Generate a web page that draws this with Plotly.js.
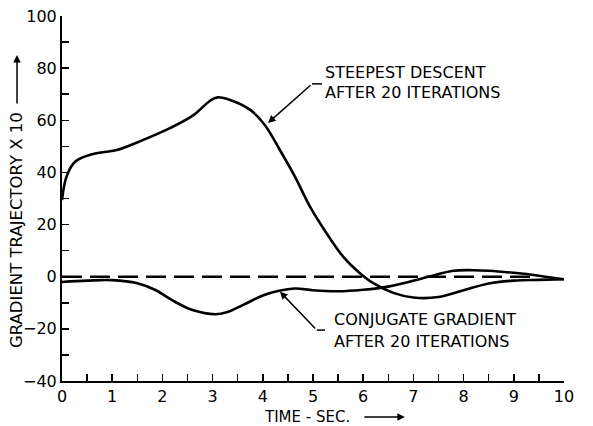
<!DOCTYPE html>
<html>
<head>
<meta charset="utf-8">
<script src="https://cdn.plot.ly/plotly-3.0.1.min.js"></script>
<style>html,body{margin:0;padding:0;background:#fff;}#chart{width:593px;height:426px;}</style>
</head>
<body>
<div id="chart"></div>
<script>
// Time axis (seconds)
const steepestT = [0, 0.09, 0.26, 0.62, 1.09, 1.62, 2.15, 2.62, 2.95, 3.1, 3.35, 3.75, 4.04, 4.34, 4.64, 4.94, 5.27, 5.6, 5.9, 6.2, 6.6, 7.0, 7.5, 8.0, 8.5, 9.0, 9.5, 10];
const steepestV = [29.4, 38.4, 44.1, 47.1, 48.6, 52.5, 57, 62, 67.5, 68.8, 67.8, 64, 58.2, 48.6, 38.4, 26.9, 16.7, 7.7, 1.9, -2.5, -6.2, -8, -7.8, -5.2, -2.6, -1.5, -1.2, -1];

const conjT = [0, 0.5, 1, 1.5, 1.85, 2.25, 2.6, 3.05, 3.3, 3.6, 4, 4.3, 4.65, 5, 5.5, 6, 6.5, 6.8, 7.3, 7.8, 8.2, 8.5, 9, 9.5, 10];
const conjV = [-2, -1.5, -1.3, -2.5, -5, -9.6, -12.8, -14.4, -13.5, -10.9, -7.2, -5.5, -4.5, -5.2, -5.6, -5, -3.8, -2.5, 0, 2.3, 2.5, 2.3, 1.5, 0.4, -1];

const refT = [0, 9.4];
const refV = [0, 0];

const xTickVals = [0, 1, 2, 3, 4, 5, 6, 7, 8, 9, 10];
const yTickVals = [-40, -20, 0, 20, 40, 60, 80, 100];

const FONT = 'DejaVu Sans, sans-serif';

const traces = [
  {x: steepestT, y: steepestV, mode: 'lines', line: {color: '#000', width: 2.6, shape: 'spline', smoothing: 1}, hoverinfo: 'skip'},
  {x: conjT, y: conjV, mode: 'lines', line: {color: '#000', width: 2.6, shape: 'spline', smoothing: 1}, hoverinfo: 'skip'},
  {x: refT, y: refV, mode: 'lines', line: {color: '#000', width: 2.6, dash: '20px,8px'}, hoverinfo: 'skip'}
];

const txt = (x, y, s) => ({x: x, y: y, xref: 'x', yref: 'y', text: s, showarrow: false, xanchor: 'left', yanchor: 'middle', font: {family: FONT, size: 16, color: '#000'}});
const arrowStyle = {arrowhead: 2, arrowsize: 1, arrowwidth: 1.5, arrowcolor: '#000', text: '', showarrow: true};

const layout = {
  width: 593, height: 426,
  margin: {l: 62, r: 29, t: 16, b: 45},
  paper_bgcolor: '#fff', plot_bgcolor: '#fff',
  showlegend: false,
  font: {family: FONT, color: '#000'},
  xaxis: {
    range: [0, 10], tickvals: xTickVals, ticks: 'inside', ticklen: 7, tickwidth: 1.5, tickcolor: '#000',
    minor: {dtick: 0.5, ticks: 'inside', ticklen: 7, tickwidth: 1.5, tickcolor: '#000'},
    showline: true, linecolor: '#000', linewidth: 2, showgrid: false, zeroline: false,
    tickfont: {family: FONT, size: 16, color: '#000'}
  },
  yaxis: {
    range: [-40, 100], tickvals: yTickVals, ticks: 'inside', ticklen: 7, tickwidth: 1.5, tickcolor: '#000',
    minor: {dtick: 10, ticks: 'inside', ticklen: 7, tickwidth: 1.5, tickcolor: '#000'},
    showline: true, linecolor: '#000', linewidth: 2, showgrid: false, zeroline: false,
    tickfont: {family: FONT, size: 16, color: '#000'}
  },
  shapes: [
    {type: 'line', xref: 'x', yref: 'y', x0: 5.179, y0: 73.97, x1: 4.98, y1: 73.97, line: {color: '#000', width: 1.5}},
    {type: 'line', xref: 'x', yref: 'y', x0: 5.239, y0: -20.46, x1: 5.074, y1: -20.46, line: {color: '#000', width: 1.5}}
  ],
  annotations: [
    txt(5.2, 78.35, 'STEEPEST DESCENT'),
    txt(5.2, 70.5, 'AFTER 20 ITERATIONS'),
    txt(5.373, -16.6, 'CONJUGATE GRADIENT'),
    txt(5.373, -24.95, 'AFTER 20 ITERATIONS'),
    Object.assign({x: 4.104, y: 59.0, ax: 4.98, ay: 73.97, axref: 'x', ayref: 'y', xref: 'x', yref: 'y'}, arrowStyle),
    Object.assign({x: 4.343, y: -5.76, ax: 5.074, ay: -20.46, axref: 'x', ayref: 'y', xref: 'x', yref: 'y'}, arrowStyle),
    {x: 0.489, y: -0.0986, xref: 'paper', yref: 'paper', text: 'TIME - SEC.', showarrow: false, xanchor: 'center', yanchor: 'middle', font: {family: FONT, size: 15, color: '#000'}},
    Object.assign({x: 0.683, y: -0.0986, ax: -42, ay: 0, xref: 'paper', yref: 'paper'}, arrowStyle),
    {x: -0.0896, y: 0.4137, xref: 'paper', yref: 'paper', text: 'GRADIENT TRAJECTORY X 10', textangle: -90, showarrow: false, xanchor: 'center', yanchor: 'middle', font: {family: FONT, size: 16.5, color: '#000'}},
    Object.assign({x: -0.0896, y: 0.893, ax: 0, ay: 50, xref: 'paper', yref: 'paper'}, arrowStyle)
  ]
};

Plotly.newPlot('chart', traces, layout, {staticPlot: true, displayModeBar: false});
</script>
</body>
</html>
